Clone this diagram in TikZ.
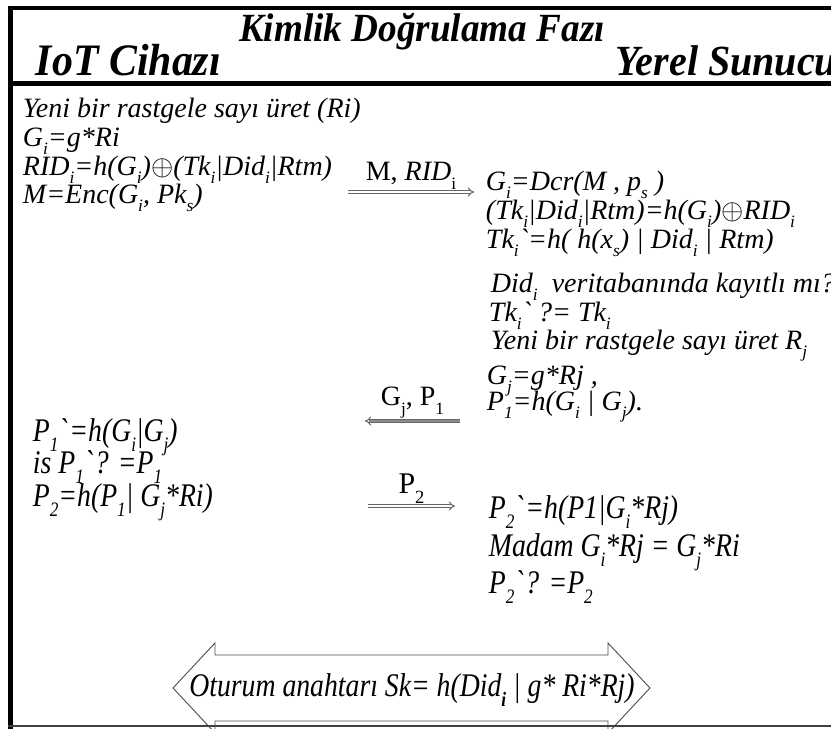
\documentclass[tikz,border=0pt]{standalone}
\usepackage{fontspec}
\setmainfont{Liberation Serif}
\newfontfamily\narrowfont[FakeStretch=0.84]{Liberation Serif}
\newfontfamily\headfont[FakeStretch=0.93]{Liberation Serif}
\usepackage{graphicx}
\usetikzlibrary{arrows.meta}
\usetikzlibrary{positioning}

\newcommand{\lo}[1]{\raisebox{-0.32em}{\scalebox{0.62}{#1}}}
\newcommand{\tk}{\textasciigrave}
\newcommand{\xor}{\scalebox{1.15}{$\oplus$}}

\tikzset{
  txt/.style={anchor=base west, inner sep=0.75pt, font=\fontsize{28}{32}\selectfont\itshape},
  ntxt/.style={anchor=base west, inner sep=0.75pt, font=\fontsize{33}{36}\selectfont\narrowfont\itshape},
  head/.style={inner sep=0.75pt, font=\fontsize{45}{48}\selectfont\headfont\bfseries\itshape},
  msg/.style={draw=black!60, line width=1pt, double=white, double distance=2pt, -{Implies}},
  lbl/.style={above, inner sep=2pt, font=\fontsize{28}{32}\selectfont},
}

\begin{document}
\begin{tikzpicture}[x=1pt,y=1pt,yscale=-1,xscale=1]
\useasboundingbox (0,0) rectangle (831,729);

%Frame
\draw [line width=4pt] (8,8) -- (831,8);
\draw [line width=5pt] (8,83) -- (831,83);
\draw [line width=5pt] (10.5,6) -- (10.5,729);

% Header
\node [head, font=\fontsize{40}{44}\selectfont\headfont\bfseries\itshape] (title) at (422,32) {Kimlik Doğrulama Fazı};
\node [head, anchor=base west] (iot) at (35,75) {IoT Cihazı};
\node [head, anchor=base east, font=\fontsize{43}{46}\selectfont\headfont\bfseries\itshape] (srv) at (838,75) {Yerel Sunucu};

% IoT side
\node [txt] (a1) at (22,117) {Yeni bir rastgele sayı üret (Ri)};
\node [txt] (a2) at (22,146) {G\lo{i}=g*Ri};
\node [txt] (a3) at (22,175) {RID\lo{i}=h(G\lo{i})\xor(Tk\lo{i}|Did\lo{i}|Rtm)};
\node [txt] (a4) at (22,203) {M=Enc(G\lo{i}, Pk\lo{s})};

% Server side
\node [txt] (b1) at (485,190) {G\lo{i}=Dcr(M , p\lo{s} )};
\node [txt] (b2) at (485,219) {(Tk\lo{i}|Did\lo{i}|Rtm)=h(G\lo{i})\xor RID\lo{i}};
\node [txt] (b3) at (485,248) {Tk\lo{i}\tk=h( h(x\lo{s}) | Did\lo{i} | Rtm)};
\node [txt] (b4) at (490,292) {Did\lo{i}\ \ veritabanında kayıtlı mı?};
\node [txt] (b5) at (488,321) {Tk\lo{i}\tk\ ?= Tk\lo{i}};
\node [txt] (b6) at (490,349) {Yeni bir rastgele sayı üret R\lo{j}};
\node [txt] (b7) at (486,384) {G\lo{j}=g*Rj ,};
\node [txt] (b8) at (486,410) {P\lo{1}=h(G\lo{i} | G\lo{j}).};

% IoT side, second part
\node [ntxt] (c1) at (32,441) {P\lo{1}\tk=h(G\lo{i}|G\lo{j})};
\node [ntxt] (c2) at (32,473) {is P\lo{1}\tk? =P\lo{1}};
\node [ntxt] (c3) at (32,506) {P\lo{2}=h(P\lo{1}| G\lo{j}*Ri)};

% Server side, second part
\node [ntxt] (d1) at (488,518) {P\lo{2}\tk=h(P1|G\lo{i}*Rj)};
\node [ntxt] (d2) at (488,556) {Madam G\lo{i}*Rj = G\lo{j}*Ri};
\node [ntxt] (d3) at (488,593) {P\lo{2}\tk? =P\lo{2}};

% Messages
\coordinate (m1s) at (348,192);
\coordinate (m1e) at (474,192);
\draw [msg] (m1s) -- node [lbl] (m1l) {M, \textit{RID}\lo{i}} (m1e);

\coordinate (m2s) at (460,421);
\coordinate (m2e) at (365,421);
\draw [msg, double=black!45] (m2s) -- node [lbl] (m2l) {G\lo{j}, P\lo{1}} (m2e);

\coordinate (m3s) at (368,506);
\coordinate (m3e) at (455,506);
\draw [msg] (m3s) -- node [lbl, font=\fontsize{30}{34}\selectfont] (m3l) {P\lo{2}} (m3e);

% Session key
\draw [draw=black!70, line width=0.9pt, fill=white] (173,688) -- (215,643) -- (215,655) -- (608,655) -- (608,643)
  -- (650,688) -- (608,733) -- (608,721) -- (215,721) -- (215,733) -- cycle;
\node [inner sep=0.75pt, font=\fontsize{33}{36}\selectfont\narrowfont\itshape] (sk) at (412,690)
  {Oturum anahtarı Sk= h(Did\lo{\bfseries i} | g* Ri*Rj)};

\draw [line width=1.6pt, black!75] (8,726) -- (831,726);

\end{tikzpicture}
\end{document}
